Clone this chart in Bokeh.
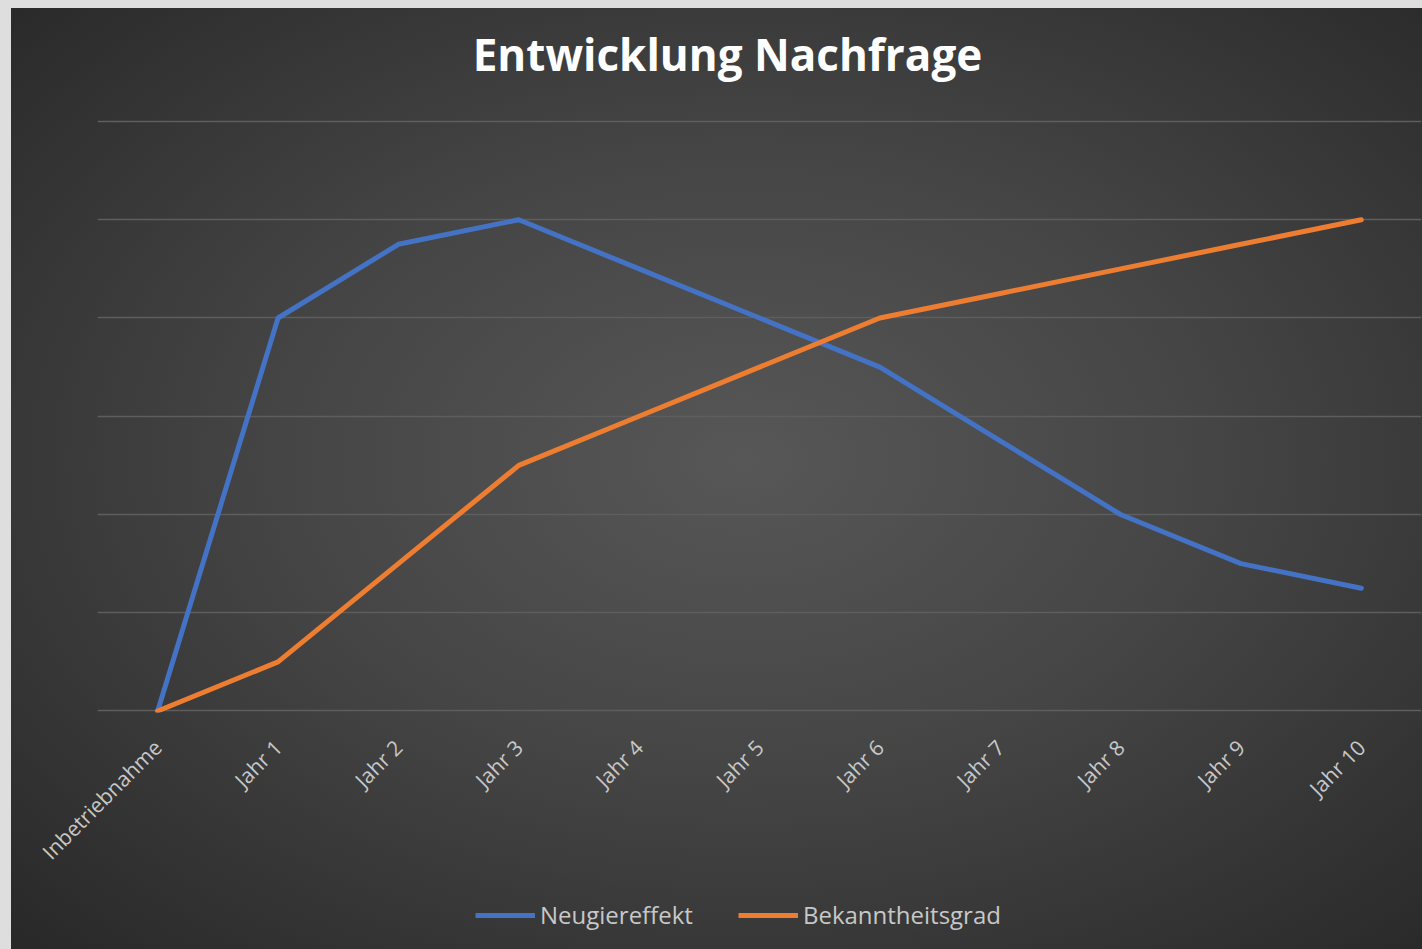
import math
from bokeh.plotting import figure
from bokeh.layouts import column
from bokeh.models import FactorRange, Range1d, FixedTicker, Label, Legend, LegendItem, ColumnDataSource
from bokeh.embed import file_html
from bokeh.resources import INLINE

categories = ["Inbetriebnahme", "Jahr 1", "Jahr 2", "Jahr 3", "Jahr 4", "Jahr 5",
              "Jahr 6", "Jahr 7", "Jahr 8", "Jahr 9", "Jahr 10"]
neugiereffekt = [0, 4.0, 4.75, 5.0, 4.5, 4.0, 3.5, 2.75, 2.0, 1.5, 1.25]
bekanntheitsgrad = [0, 0.5, 1.5, 2.5, 3.0, 3.5, 4.0, 4.25, 4.5, 4.75, 5.0]
grid_values = [0, 1, 2, 3, 4, 5, 6]
series_names = ["Neugiereffekt", "Bekanntheitsgrad"]
title_text = "Entwicklung Nachfrage"
colors = ["#4472C4", "#ED7D31"]

W = 1422
H_MAIN = 882
H_LEG = 949 - H_MAIN

src = ColumnDataSource(dict(cat=categories, a=neugiereffekt, b=bekanntheitsgrad))

# ---- main chart ----
p = figure(width=W, height=H_MAIN, x_range=FactorRange(*categories, range_padding=0),
           y_range=Range1d(-0.0153, 7.2315), output_backend="svg", toolbar_location=None,
           title=None,
           min_border_left=97, min_border_right=1, min_border_top=0, min_border_bottom=170)
p.border_fill_alpha = 0
p.background_fill_alpha = 0
p.outline_line_color = None

p.yaxis.visible = False
p.ygrid.ticker = FixedTicker(ticks=grid_values)
p.ygrid.grid_line_color = "#5e5e5e"
p.ygrid.grid_line_width = 1.5
p.xgrid.visible = False

ax = p.xaxis[0]
ax.axis_line_color = None
ax.major_tick_line_color = None
ax.minor_tick_line_color = None
ax.major_tick_out = 0
ax.major_label_orientation = math.pi / 4
ax.major_label_text_font = "Open Sans"
ax.major_label_text_font_size = "21px"
ax.major_label_text_color = "#c8c8c8"
ax.major_label_standoff = 31

p.line(x="cat", y="a", source=src, line_color=colors[0], line_width=5, line_join="round", line_cap="round")
p.line(x="cat", y="b", source=src, line_color=colors[1], line_width=5, line_join="round", line_cap="round")

title = Label(x=630, y=659, x_units="screen", y_units="screen", text=title_text,
              text_font="Open Sans", text_font_style="bold", text_font_size="44px",
              text_color="#ffffff", text_align="center", text_baseline="middle")
p.add_layout(title)

# ---- legend strip (same series, scrolled out of view; only the legend shows) ----
q = figure(width=W, height=H_LEG, output_backend="svg", toolbar_location=None, title=None,
           x_range=FactorRange(*categories, range_padding=0), y_range=Range1d(100, 101),
           min_border_left=0, min_border_right=0, min_border_top=0, min_border_bottom=0)
q.border_fill_alpha = 0
q.background_fill_alpha = 0
q.outline_line_color = None
q.axis.visible = False
q.grid.visible = False
lr1 = q.line(x="cat", y="a", source=src, line_color=colors[0], line_width=5)
lr2 = q.line(x="cat", y="b", source=src, line_color=colors[1], line_width=5)
legend = Legend(items=[LegendItem(label=series_names[0], renderers=[lr1]),
                       LegendItem(label=series_names[1], renderers=[lr2])],
                orientation="horizontal", location=(378, 18),
                glyph_width=60, glyph_height=24, label_standoff=5, spacing=45,
                padding=0, margin=0, border_line_color=None, background_fill_alpha=0,
                label_text_font="Open Sans", label_text_font_size="24px", label_text_color="#c8c8c8")
q.add_layout(legend, "center")

layout = column(p, q, spacing=0)
layout.styles = {"background": "radial-gradient(ellipse at 52% 48%, #575757 0%, #454545 45%, #282828 100%) "
                               "11px 8px / 1411px 941px no-repeat #dedede"}

html = file_html(layout, INLINE)
html = html.replace("<body>", '<body style="margin:0;overflow:hidden;background:#dedede;">', 1)
open("out.html", "w").write(html)
